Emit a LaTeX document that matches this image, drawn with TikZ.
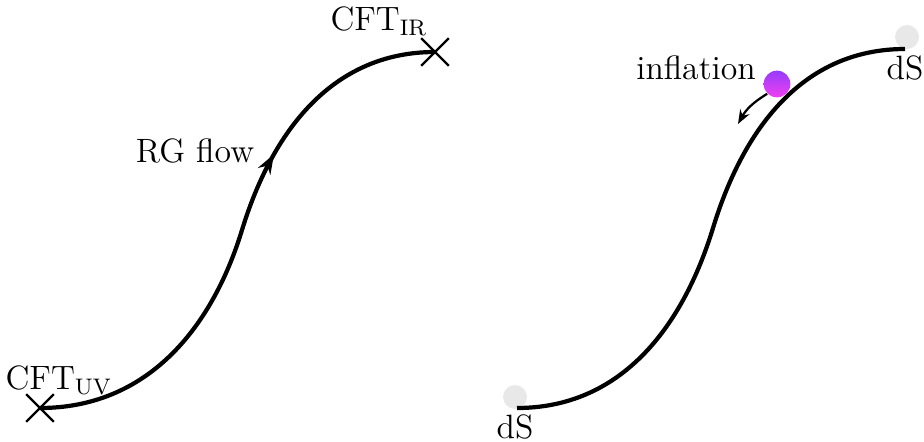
\documentclass[tikz,border=0pt]{standalone}
\usepackage{amsmath}
\usepackage{tikz}
\usetikzlibrary{arrows.meta, shapes.misc, decorations.markings}
\definecolor{infviolet}{RGB}{150,60,250}
\definecolor{infpink}{RGB}{240,64,240}
\tikzset{
  flow/.style    = {line width=1.5pt, draw=black},
  rgflow/.style  = {flow, postaction={decorate},
                    decoration={markings, mark=at position 0.65 with {\arrow{Stealth[length=7pt,width=5pt]}}}},
  fixpt/.style   = {cross out, draw=black, line width=0.8pt, minimum size=9pt, inner sep=0pt},
  vac/.style     = {circle, fill=black!9, minimum size=8.5pt, inner sep=0pt},
  ball/.style    = {circle, minimum size=9.5pt, inner sep=0pt, top color=infviolet, bottom color=infpink},
  roll/.style    = {-{Stealth[length=5pt]}, thick, draw=black},
  lab/.style     = {font=\large, inner sep=1pt}
}
\begin{document}
\begin{tikzpicture}[x=0.0125cm, y=-0.0125cm]
  \useasboundingbox (0,0) rectangle (924,442);
  % RG flow between fixed points
  \coordinate (uv) at (40,408);
  \coordinate (rgmid) at (242,230);
  \coordinate (ir) at (435,52);
  \draw[rgflow] (uv) to[out=0, in=-107] (rgmid) to[out=73, in=180] (ir);
  \node[fixpt] (uvx) at (uv) {};
  \node[fixpt] (irx) at (ir) {};
  \node[lab] (uvlab) at (59,380) {CFT$_{\mathrm{UV}}$};
  \node[lab] (irlab) at (379,21) {CFT$_{\mathrm{IR}}$};
  \node[lab] (rglab) at (195,151) {RG flow};

  % inflation between de Sitter vacua
  \coordinate (dsl) at (517,408);
  \coordinate (dsmid) at (713,228);
  \coordinate (dsr) at (905,49);
  \node[vac] (vl) at (515,397) {};
  \node[vac] (vr) at (907,37) {};
  \draw[flow] (dsl) to[out=0, in=-107] (dsmid) to[out=73, in=180] (dsr);
  \node[lab] (dsllab) at (515,427) {dS};
  \node[lab] (dsrlab) at (905,68) {dS};
  \node[ball] (inf) at (777,84) {};
  \node[lab] (inflab) at (696,68) {inflation};
  \coordinate (rollend) at (738,124);
  \draw[roll] (inf.-135) to[bend right=15] (rollend);
\end{tikzpicture}
\end{document}
